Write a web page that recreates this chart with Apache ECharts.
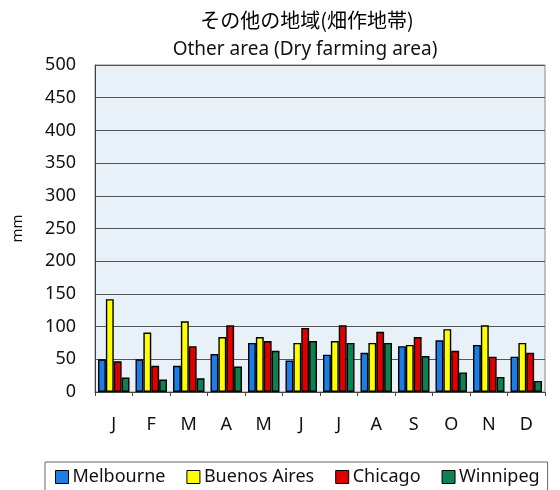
<!DOCTYPE html>
<html><head><meta charset="utf-8">
<script src="https://cdn.jsdelivr.net/npm/echarts@6/dist/echarts.min.js"></script>
<style>html,body{margin:0;padding:0;background:#fff}#c{width:560px;height:490px}</style>
</head><body><div id="c"></div>
<script>
const months = ['J','F','M','A','M','J','J','A','S','O','N','D'];
const seriesNames = ['Melbourne','Buenos Aires','Chicago','Winnipeg'];
const melbourne = [50,50,40,58,75,48,57,60,70,79,72,54];
const buenosAires = [142,91,108,84,84,75,78,75,72,96,102,75];
const chicago = [47,40,70,102,78,98,102,92,84,63,54,60];
const winnipeg = [22,19,21,39,63,78,75,75,55,30,23,17];
const yTicks = [0,50,100,150,200,250,300,350,400,450,500];
const colors = ['#1a7ee6','#ffff00','#e00000','#0f8050'];

const chart = echarts.init(document.getElementById('c'));
const data = [melbourne, buenosAires, chicago, winnipeg];
chart.setOption({
  animation:false,
  title:[
    {text:'その他の地域(畑作地帯)',left:302,top:5,textAlign:'center',textStyle:{fontFamily:'Noto Sans CJK JP',fontSize:20,fontWeight:'normal',color:'#000'}},
    {text:'Other area (Dry farming area)',left:300,top:35,textAlign:'center',textStyle:{fontFamily:'Noto Sans',fontSize:19,fontWeight:'normal',color:'#111'}}
  ],
  legend:{
    bottom:-8,left:45,itemWidth:13,itemHeight:13,itemGap:21,
    padding:[6,8,12,10],
    borderColor:'#666',borderWidth:1,
    icon:'rect',
    textStyle:{fontFamily:'Noto Sans',fontSize:18,color:'#111',padding:[0,0,0,-1]},
    data:seriesNames.map((n,i)=>({name:n,itemStyle:{color:colors[i],borderColor:'#000',borderWidth:1}}))
  },
  grid:{left:95,right:15,top:65,bottom:98,backgroundColor:'#e8f0f8',show:true,borderColor:'#888',borderWidth:1},
  xAxis:{type:'category',data:months,
    axisLine:{lineStyle:{color:'#444'}},
    axisTick:{show:true,length:4,lineStyle:{color:'#444'}},
    axisLabel:{fontFamily:'Noto Sans',fontSize:18,color:'#111',margin:24}},
  yAxis:{type:'value',min:0,max:500,interval:50,name:'mm',nameLocation:'middle',nameGap:70,
    nameTextStyle:{fontFamily:'Noto Sans',fontSize:15,color:'#111'},
    axisLine:{show:true,lineStyle:{color:'#444'}},
    axisTick:{show:false},
    splitLine:{lineStyle:{color:'#555',width:1}},
    axisLabel:{fontFamily:'Noto Sans',fontSize:18,color:'#111',margin:19}},
  series:seriesNames.map((n,i)=>({
    name:n,type:'bar',data:data[i],barGap:'0%',barCategoryGap:'16%',
    itemStyle:{color:colors[i],borderColor:'#000',borderWidth:1.4}
  }))
});
</script></body></html>
